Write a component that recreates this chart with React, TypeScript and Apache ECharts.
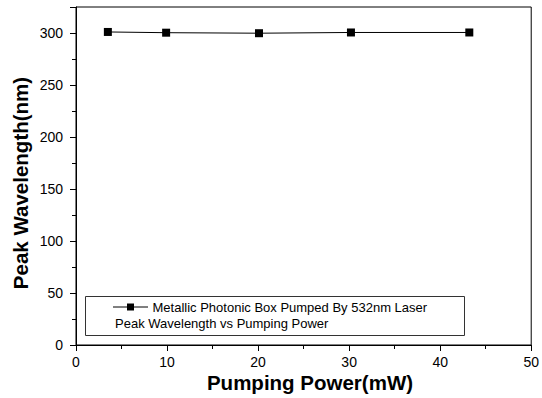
import React, { useEffect, useRef } from "react";
import * as echarts from "echarts";

const xValues = [3.5, 9.9, 20.1, 30.2, 43.2];
const yValues = [301, 300.3, 299.8, 300.5, 300.5];
const seriesName = "Metallic Photonic Box Pumped By 532nm Laser";
const legendLine2 = "Peak Wavelength vs Pumping Power";
const xTitle = "Pumping Power(mW)";
const yTitle = "Peak Wavelength(nm)";

const FONT = "Arial";

export default function App() {
  const ref = useRef<HTMLDivElement>(null);
  useEffect(() => {
    if (!ref.current) return;
    const chart = echarts.init(ref.current, undefined, { renderer: "svg" });
    const data = xValues.map((x, i) => [x, yValues[i]]);
    chart.setOption({
      animation: false,
      backgroundColor: "#fff",
      textStyle: { fontFamily: FONT },
      grid: {
        left: 76,
        right: 6,
        top: 7,
        bottom: 53,
        show: true,
        borderColor: "#000",
        borderWidth: 1,
        backgroundColor: "transparent",
      },
      xAxis: {
        type: "value",
        min: 0,
        max: 50,
        interval: 10,
        axisLine: { show: true, lineStyle: { color: "#000", width: 1 } },
        axisTick: { show: true, length: 6, lineStyle: { color: "#000" } },
        minorTick: { show: true, splitNumber: 2, length: 4, lineStyle: { color: "#000" } },
        axisLabel: { color: "#000", fontSize: 14, margin: 10, fontFamily: FONT },
        splitLine: { show: false },
      },
      yAxis: [
        {
          type: "value",
          min: 0,
          max: 325,
          interval: 25,
          axisLine: { show: true, lineStyle: { color: "#000", width: 1 } },
          axisTick: { show: true, length: 4, lineStyle: { color: "#000" } },
          axisLabel: {
            color: "#000",
            fontSize: 14,
            margin: 13,
            fontFamily: FONT,
            formatter: (v: number) => (v % 50 === 0 ? String(v) : ""),
          },
          splitLine: { show: false },
        },
        {
          type: "value",
          min: 0,
          max: 325,
          interval: 50,
          position: "left",
          axisLine: { show: false },
          axisTick: { show: true, length: 6, lineStyle: { color: "#000" } },
          axisLabel: { show: false },
          splitLine: { show: false },
        },
      ],
      series: [
        {
          name: seriesName,
          type: "line",
          data,
          symbol: "rect",
          symbolSize: 8,
          itemStyle: { color: "#000" },
          lineStyle: { color: "#000", width: 1 },
        },
      ],
      graphic: [
        {
          type: "text",
          x: 310,
          y: 382,
          style: {
            text: xTitle,
            fontFamily: FONT,
            fontWeight: "bold",
            fontSize: 20.5,
            fill: "#000",
            textAlign: "center",
            textVerticalAlign: "middle",
          },
        },
        {
          type: "text",
          x: 20,
          y: 183,
          rotation: Math.PI / 2,
          style: {
            text: yTitle,
            fontFamily: FONT,
            fontWeight: "bold",
            fontSize: 20.5,
            fill: "#000",
            textAlign: "center",
            textVerticalAlign: "middle",
          },
        },
        {
          type: "rect",
          shape: { x: 85.5, y: 296.5, width: 379, height: 39 },
          style: { fill: "#fff", stroke: "#333", lineWidth: 1 },
        },
        {
          type: "line",
          shape: { x1: 113, y1: 307, x2: 148, y2: 307 },
          style: { stroke: "#000", lineWidth: 1 },
        },
        {
          type: "rect",
          shape: { x: 127, y: 303.5, width: 7, height: 7 },
          style: { fill: "#000" },
        },
        {
          type: "text",
          x: 152.5,
          y: 307,
          style: {
            text: seriesName,
            fontFamily: FONT,
            fontSize: 13,
            fill: "#000",
            textVerticalAlign: "middle",
          },
        },
        {
          type: "text",
          x: 115,
          y: 323,
          style: {
            text: legendLine2,
            fontFamily: FONT,
            fontSize: 13,
            fill: "#000",
            textVerticalAlign: "middle",
          },
        },
      ],
    });
    return () => chart.dispose();
  }, []);
  return (
    <div
      ref={ref}
      style={{ position: "fixed", left: 0, top: 0, width: 542, height: 398 }}
    />
  );
}
